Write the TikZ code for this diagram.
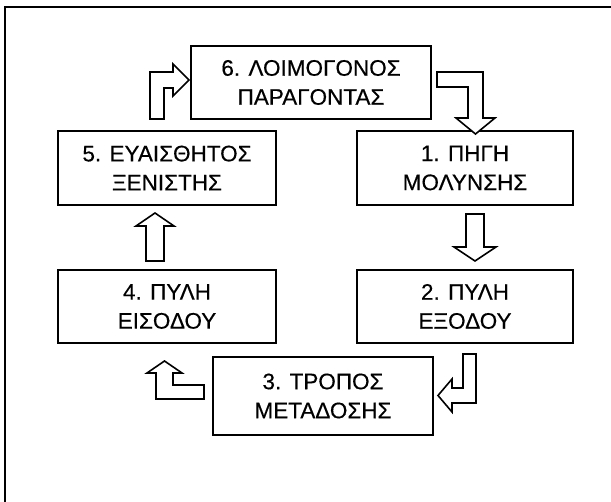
\documentclass[tikz,border=0pt]{standalone}
\usepackage{fontspec}
\setmainfont{Liberation Sans}[FakeBold=0.4]
\begin{document}
\begin{tikzpicture}[x=1pt,y=-1pt,
  box/.style={draw, line width=1.7pt, align=center, inner sep=0pt,
    font=\fontsize{22.5}{29}\selectfont},
  barrow/.style={draw, line width=1.6pt, line join=miter, fill=white}]
\useasboundingbox (0,0) rectangle (611,502);
% frame
\draw[line width=2pt] (5,502) -- (5,7) -- (611,7);
% boxes
\node[box, minimum width=240pt, minimum height=73pt] (b6) at (311,82.5) {6. ΛΟΙΜΟΓΟΝΟΣ\\ΠΑΡΑΓΟΝΤΑΣ};
\node[box, minimum width=218pt, minimum height=74pt] (b5) at (167,168) {5. ΕΥΑΙΣΘΗΤΟΣ\\ΞΕΝΙΣΤΗΣ};
\node[box, minimum width=216pt, minimum height=74pt] (b1) at (465,168) {1. ΠΗΓΗ\\ΜΟΛΥΝΣΗΣ};
\node[box, minimum width=218pt, minimum height=73pt] (b4) at (167,306.5) {4. ΠΥΛΗ\\ΕΙΣΟΔΟΥ};
\node[box, minimum width=216pt, minimum height=73pt] (b2) at (465,306.5) {2. ΠΥΛΗ\\ΕΞΟΔΟΥ};
\node[box, minimum width=220pt, minimum height=78pt] (b3) at (323,396) {3. ΤΡΟΠΟΣ\\ΜΕΤΑΔΟΣΗΣ};
% block arrows
\draw[barrow] (150,119) -- (150,72) -- (173,72) -- (173,64) -- (189,80) -- (173,96) -- (173,88) -- (164,88) -- (164,119) -- cycle;
\draw[barrow] (437,72) -- (483,72) -- (483,118) -- (495,118) -- (475.5,134) -- (456,118) -- (468,118) -- (468,87) -- (437,87) -- cycle;
\draw[barrow] (466,214) -- (484,214) -- (484,247) -- (496,247) -- (475,261) -- (454,247) -- (466,247) -- cycle;
\draw[barrow] (463,354) -- (476,354) -- (476,403) -- (452,403) -- (452,412) -- (438,395.5) -- (452,379) -- (452,388) -- (463,388) -- cycle;
\draw[barrow] (204,385) -- (204,399) -- (156,399) -- (156,373) -- (147,373) -- (164.5,361) -- (182,373) -- (173,373) -- (173,385) -- cycle;
\draw[barrow] (146,261) -- (146,226) -- (136,226) -- (155,213) -- (174,226) -- (164,226) -- (164,261) -- cycle;
\end{tikzpicture}
\end{document}
